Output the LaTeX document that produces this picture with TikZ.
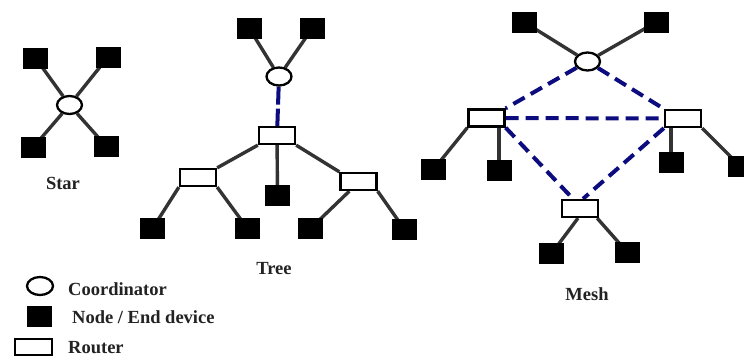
\documentclass[tikz,border=0pt]{standalone}
\usepackage{fontspec}
\setmainfont{Liberation Serif}
\usetikzlibrary{shapes.geometric,backgrounds}
\definecolor{linkgray}{HTML}{333333}
\definecolor{meshblue}{HTML}{0C0C7E}
\definecolor{labelink}{HTML}{222222}
\tikzset{
  coord/.style={ellipse,draw=black,line width=2.3pt,fill=white,minimum width=25pt,minimum height=18pt,inner sep=0pt},
  enddev/.style={rectangle,fill=black,minimum width=25pt,minimum height=21pt,inner sep=0pt},
  router/.style={rectangle,draw=black,line width=2.3pt,fill=white,minimum width=36pt,minimum height=17pt,inner sep=0pt},
  wire/.style={draw=linkgray,line width=3.4pt},
  radio/.style={draw=meshblue,line width=4pt,dash pattern=on 13pt off 7pt},
  uplink/.style={draw=meshblue,line width=4pt,dash pattern=on 18pt off 4pt},
  caption/.style={text=labelink,font=\fontsize{18.5}{22}\selectfont\bfseries,inner sep=0pt},
}
\begin{document}
\begin{tikzpicture}[x=1pt,y=-1pt]
\useasboundingbox (0,0) rectangle (744,359);
\begin{scope}[on background layer]
  \fill[white] (0,0) rectangle (744,359);
\end{scope}

% ---- star topology ----
\node[coord]  (sc)  at (69.5,105) {};
\node[enddev] (ss1) at (35.5,58) {};
\node[enddev] (ss2) at (108,57) {};
\node[enddev] (ss3) at (33.5,147) {};
\node[enddev] (ss4) at (106,146) {};
\node[caption,anchor=base] (starlbl) at (63,189) {Star};

% ---- tree topology ----
\node[coord]  (tc)  at (279,76.5) {};
\node[enddev] (ts1) at (249,28) {};
\node[enddev] (ts2) at (312.5,28) {};
\node[router] (tr0) at (277,135.5) {};
\node[router] (tr1) at (198,177.5) {};
\node[router] (tr2) at (358.5,181.5) {};
\node[enddev] (tsm) at (277.5,195.5) {};
\node[enddev] (tb1) at (152.5,228.5) {};
\node[enddev] (tb2) at (247.5,228.5) {};
\node[enddev] (tb3) at (310.5,228.5) {};
\node[enddev] (tb4) at (404.5,229.5) {};
\node[caption,anchor=base] (treelbl) at (274,274) {Tree};

% ---- mesh topology ----
\node[coord]  (mc)   at (587.5,61.5) {};
\node[enddev] (ms1)  at (524,22) {};
\node[enddev] (ms2)  at (656.5,22) {};
\node[router] (mr1)  at (486.5,118) {};
\node[router] (mr2)  at (683,118.5) {};
\node[router] (mr3)  at (580,208.5) {};
\node[enddev] (ml1)  at (433.5,169.5) {};
\node[enddev] (ml2)  at (499,170.5) {};
\node[enddev] (mq1)  at (671,162.5) {};
\node[enddev] (mq2)  at (740,166) {};
\node[enddev] (mb1)  at (551.5,253.5) {};
\node[enddev] (mb2)  at (627.5,252.5) {};
\node[caption,anchor=base] (meshlbl) at (587,300) {Mesh};

% ---- legend ----
\node[coord,minimum width=26pt,minimum height=18pt] (lgc) at (40,286) {};
\node[enddev] (lgn) at (39.5,316.5) {};
\node[router,minimum width=37pt,minimum height=16pt] (lgr) at (33.5,347) {};
\node[caption,anchor=base west] (lgctxt) at (68,295) {Coordinator};
\node[caption,anchor=base west] (lgntxt) at (72,323) {Node / End device};
\node[caption,anchor=base west] (lgrtxt) at (68,353) {Router};

% ---- links, drawn beneath the devices ----
\begin{scope}[on background layer]
  % star
  \draw[wire] (ss1.center) -- (sc);
  \draw[wire] (ss2.center) -- (sc);
  \draw[wire] (ss3.center) -- (sc);
  \draw[wire] (ss4.center) -- (sc);
  % tree
  \draw[wire] (ts1.center) -- (tc);
  \draw[wire] (ts2.center) -- (tc);
  \draw[uplink] (tc) -- (tr0);
  \draw[wire] (tr0.south west) -- (tr1.north east);
  \draw[wire] (tr0.south east) -- (tr2.north west);
  \draw[wire] (tr0.center) -- (tsm.center);
  \draw[wire] (tr1.south west) -- (tb1.center);
  \draw[wire] (tr1.south east) -- (tb2.center);
  \draw[wire] ([xshift=10pt]tr2.south west) -- (tb3.center);
  \draw[wire] (tr2.south east) -- (tb4.center);
  % mesh: wired end devices
  \draw[wire] (ms1.center) -- (mc);
  \draw[wire] (ms2.center) -- (mc);
  \draw[wire] (mr1.south west) -- (ml1.center);
  \draw[wire] (ml2 |- mr1.south) -- (ml2.center);
  \draw[wire] (mq1 |- mr2.south) -- (mq1.center);
  \draw[wire] (mr2.south east) -- (mq2.center);
  \draw[wire] ([xshift=-2pt]mr3.south) -- (mb1.center);
  \draw[wire] ([xshift=-2pt]mr3.south east) -- (mb2.center);
  % mesh: radio links between coordinator and routers
  \draw[radio] (mc) -- (mr1.north east);
  \draw[radio] (mc) -- (mr2.north west);
  \draw[radio] (mr1.east) -- (mr2.west);
  \draw[radio] (mr1.south east) -- ([xshift=-7pt]mr3.north);
  \draw[radio] (mr2.south west) -- ([xshift=3pt]mr3.north);
\end{scope}
\end{tikzpicture}
\end{document}
